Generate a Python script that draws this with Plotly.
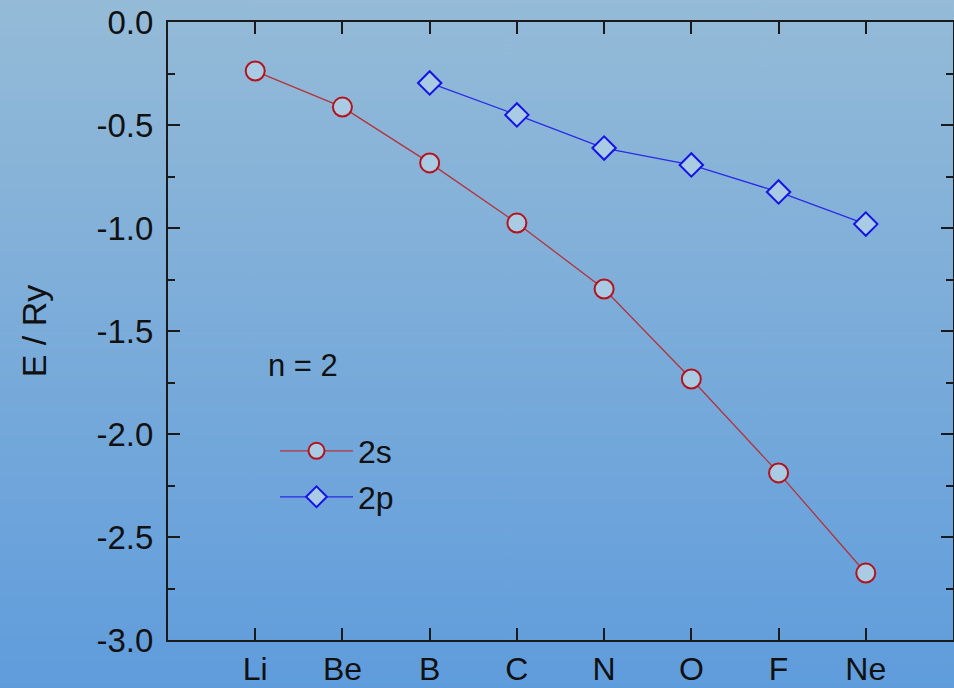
import base64
import plotly.graph_objects as go

elements = ["Li", "Be", "B", "C", "N", "O", "F", "Ne"]
e_2s = [-0.238, -0.413, -0.684, -0.976, -1.296, -1.733, -2.189, -2.675]
elements_2p = ["B", "C", "N", "O", "F", "Ne"]
e_2p = [-0.296, -0.451, -0.612, -0.694, -0.825, -0.981]
y_tickvals = [0.0, -0.5, -1.0, -1.5, -2.0, -2.5, -3.0]
y_ticktext = ["0.0", "-0.5", "-1.0", "-1.5", "-2.0", "-2.5", "-3.0"]

W, H = 954, 688
ML, MR, MT, MB = 168, 1, 22, 48
PW, PH = W - ML - MR, H - MT - MB

FONT = "Liberation Sans, Arial, sans-serif"
MARK_FILL = "#a9cbe3"

svg = (
    f'<svg xmlns="http://www.w3.org/2000/svg" width="{W}" height="{H}" '
    f'viewBox="0 0 {W} {H}" preserveAspectRatio="none">'
    '<defs><linearGradient id="g" x1="0" y1="0" x2="0" y2="1">'
    '<stop offset="0" stop-color="#95bbd7"/>'
    '<stop offset="1" stop-color="#5f9cdc"/>'
    '</linearGradient></defs>'
    f'<rect width="{W}" height="{H}" fill="url(#g)"/></svg>'
)
bg_uri = "data:image/svg+xml;base64," + base64.b64encode(svg.encode()).decode()

fig = go.Figure()
fig.add_trace(go.Scatter(
    x=elements, y=e_2s, name="2s", mode="lines+markers",
    line=dict(color="#b3333b", width=1.3),
    marker=dict(symbol="circle", size=19, color=MARK_FILL,
                line=dict(color="#b5121b", width=2)),
    legend="legend",
))
fig.add_trace(go.Scatter(
    x=elements_2p, y=e_2p, name="2p", mode="lines+markers",
    line=dict(color="#2a2ae6", width=1.3),
    marker=dict(symbol="diamond", size=18, color=MARK_FILL,
                line=dict(color="#1414e6", width=2)),
    legend="legend2",
))

axis_common = dict(
    showline=True, linecolor="#1a1a1a", linewidth=2, mirror="ticks",
    ticks="inside", tickcolor="#1a1a1a", tickwidth=1.5, ticklen=12,
    showgrid=False, zeroline=False, automargin=False,
)

fig.update_xaxes(
    type="category", categoryorder="array", categoryarray=elements,
    range=[-1, 8], ticklabelstandoff=0,
    tickfont=dict(family=FONT, size=32, color="#111111"),
    **axis_common,
)
fig.update_yaxes(
    range=[-3, 0], tickvals=y_tickvals, ticktext=y_ticktext,
    minor=dict(ticks="inside", ticklen=7, dtick=0.25, tickcolor="#1a1a1a",
               tickwidth=1.5, showgrid=False),
    ticklabelstandoff=6,
    tickfont=dict(family=FONT, size=33, color="#111111"),
    title=dict(text="E / Ry", font=dict(family=FONT, size=34, color="#111111"),
               standoff=40),
    **axis_common,
)

LEG_X = 275
legend_common = dict(
    bgcolor="rgba(0,0,0,0)", borderwidth=0,
    font=dict(family=FONT, size=32, color="#111111"),
    xanchor="left", yanchor="middle", itemwidth=73,
)

PAD = 6
fig.update_layout(
    width=W, height=H,
    margin=dict(l=ML, r=MR, t=MT, b=MB, autoexpand=False),
    paper_bgcolor="#7aabd9", plot_bgcolor="rgba(0,0,0,0)",
    showlegend=True,
    legend=dict(x=(LEG_X - ML) / PW, y=(640 - 451) / PH, **legend_common),
    legend2=dict(x=(LEG_X - ML) / PW, y=(640 - 497) / PH, **legend_common),
    images=[dict(
        source=bg_uri, xref="paper", yref="paper",
        x=-(ML + PAD) / PW, y=1 + (MT + PAD) / PH,
        sizex=(W + 2 * PAD) / PW, sizey=(H + 2 * PAD) / PH,
        xanchor="left", yanchor="top", sizing="stretch", layer="below",
    )],
    annotations=[dict(
        text="n = 2", xref="paper", yref="paper",
        x=(266 - ML) / PW, y=(640 - 365) / PH,
        xanchor="left", yanchor="middle", showarrow=False,
        font=dict(family=FONT, size=31, color="#111111"),
    )],
)

fig.write_html(
    "out.html",
    config={"displayModeBar": False},
    post_script="document.body.style.margin='0';",
)
